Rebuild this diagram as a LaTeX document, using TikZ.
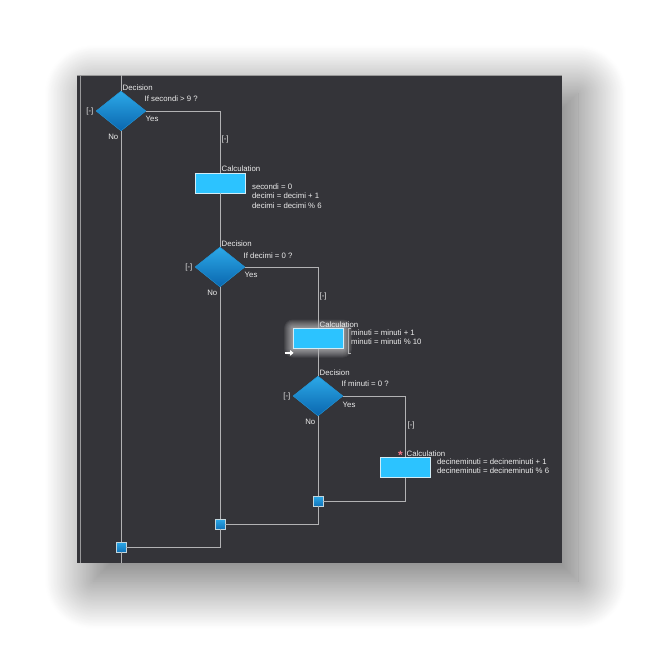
\documentclass[tikz,border=0pt]{standalone}
\usepackage{fontspec}
\setmainfont{Liberation Sans}
\usetikzlibrary{shapes.geometric,shadows.blur,arrows.meta}
\definecolor{panel}{HTML}{343439}
\definecolor{wireg}{HTML}{B2B2B4}
\definecolor{dectop}{HTML}{2CA9E8}
\definecolor{decbot}{HTML}{0A66AE}
\definecolor{calcfill}{HTML}{2CC3FF}
\definecolor{edgelt}{HTML}{D2ECF6}
\definecolor{txt}{HTML}{ECECEC}
\definecolor{starpink}{HTML}{F27A8A}

\begin{document}
\begin{tikzpicture}[x=1pt,y=-1pt,
  font=\fontsize{7.8}{9.5}\selectfont,
  dec/.style={diamond,minimum width=50pt,minimum height=40pt,inner sep=0pt,
    top color=dectop,bottom color=decbot,draw=dectop!70!decbot,line width=0.4pt},
  calc/.style={rectangle,minimum width=50pt,minimum height=20pt,inner sep=0pt,
    fill=calcfill,draw=edgelt,line width=0.8pt},
  junc/.style={rectangle,minimum size=10pt,inner sep=0pt,
    top color=dectop,bottom color=decbot!80!dectop,draw=edgelt!80!gray,line width=0.6pt},
  wire/.style={draw=wireg,line width=1pt},
  lbl/.style={text=txt,inner sep=0.5pt,align=left}
]
\useasboundingbox (0,0) rectangle (665,651);
\fill[panel,blur shadow={shadow xshift=16pt,shadow yshift=-18pt,shadow blur radius=48pt,
    shadow opacity=60,shadow blur steps=60}]
  (77,75) rectangle (562,563);
\draw[gray!80,line width=0.6pt] (77,75.3) -- (562,75.3);
\draw[wireg!80!panel,line width=0.8pt] (80,75) -- (80,563);

\coordinate (c2pos) at (318,338.5);
\foreach \g in {1,...,9}
  \fill[white,opacity=0.07,rounded corners=\g pt]
    ([shift={(-25-\g,-10-\g)}]c2pos) rectangle ([shift={(25+\g,10+\g)}]c2pos);

\node[dec] (d1) at (121,111) {};
\node[calc] (c1) at (220,183) {};
\node[dec] (d2) at (220,267) {};
\node[calc] (c2) at (c2pos) {};
\node[dec] (d3) at (318,396) {};
\node[calc] (c3) at (405,467.5) {};
\node[junc] (j3) at (318,501) {};
\node[junc] (j2) at (220,524) {};
\node[junc] (j1) at (121,547) {};
\coordinate (top) at (121,75);
\coordinate (bot) at (121,563);
\coordinate (b1) at (d1.east -| c1.north);
\coordinate (b2) at (d2.east -| c2.north);
\coordinate (b3) at (d3.east -| c3.north);

\draw[wire] (top) -- (d1.north);
\draw[wire] (d1.south) -- (j1.north);
\draw[wire] (j1.south) -- (bot);
\draw[wire] (d1.east) -| (c1.north);
\draw[wire] (c1.south) -- (d2.north);
\draw[wire] (d2.south) -- (j2.north);
\draw[wire] (d2.east) -| (c2.north);
\draw[wire] (c2.south) -- (d3.north);
\draw[wire] (d3.south) -- (j3.north);
\draw[wire] (d3.east) -| (c3.north);
\draw[wire] (c3.south) |- (j3.east);
\draw[wire] (j3.south) |- (j2.east);
\draw[wire] (j2.south) |- (j1.east);

\node[lbl,anchor=south west] at ([xshift=1pt]d1.north) {Decision};
\node[lbl,anchor=west] at ([shift={(23,-12)}]d1.center) {If secondi > 9 ?};
\node[lbl,anchor=west] at ([shift={(24,8)}]d1.center) {Yes};
\node[lbl,anchor=east] at ([shift={(-2,26)}]d1.center) {No};
\node[lbl,anchor=east] at ([shift={(-27,0)}]d1.center) {[-]};
\node[lbl,anchor=west] at ([shift={(1,28)}]b1) {[-]};
\node[lbl,anchor=south west] at ([xshift=1pt]c1.north) {Calculation};
\node[lbl,anchor=north west] at ([shift={(6,0)}]c1.east)
  {secondi = 0\\decimi = decimi + 1\\decimi = decimi \% 6};

\node[lbl,anchor=south west] at ([xshift=1pt]d2.north) {Decision};
\node[lbl,anchor=west] at ([shift={(23,-11)}]d2.center) {If decimi = 0 ?};
\node[lbl,anchor=west] at ([shift={(24,8)}]d2.center) {Yes};
\node[lbl,anchor=east] at ([shift={(-2,26)}]d2.center) {No};
\node[lbl,anchor=east] at ([shift={(-27,0)}]d2.center) {[-]};
\node[lbl,anchor=west] at ([shift={(1,29)}]b2) {[-]};
\node[lbl,anchor=south west] at ([xshift=1pt]c2.north) {Calculation};
\node[lbl,anchor=north west] at ([shift={(7,1)}]c2.north east)
  {minuti = minuti + 1\\minuti = minuti \% 10};
\draw[wireg,line width=0.8pt] ([shift={(8,0.5)}]c2.north east) -- ++(-3,0) -- ++(0,25) -- ++(3,0);
\draw[white,line width=1.6pt,-{Triangle[length=3.5pt,width=5.5pt]}]
  ([shift={(-8,4)}]c2.south west) -- ++(9,0);

\node[lbl,anchor=south west] at ([xshift=1pt]d3.north) {Decision};
\node[lbl,anchor=west] at ([shift={(23,-12)}]d3.center) {If minuti = 0 ?};
\node[lbl,anchor=west] at ([shift={(24,9)}]d3.center) {Yes};
\node[lbl,anchor=east] at ([shift={(-2,26)}]d3.center) {No};
\node[lbl,anchor=east] at ([shift={(-27,0)}]d3.center) {[-]};
\node[lbl,anchor=west] at ([shift={(2,29)}]b3) {[-]};
\node[lbl,anchor=south west] at ([xshift=1pt]c3.north) {Calculation};
\node[lbl,text=starpink,anchor=south east,inner sep=0pt,font=\bfseries\fontsize{12}{12}\selectfont]
  at ([shift={(-2,3)}]c3.north) {*};
\node[lbl,anchor=north west] at ([shift={(6,1)}]c3.north east)
  {decineminuti = decineminuti + 1\\decineminuti = decineminuti \% 6};
\end{tikzpicture}
\end{document}
